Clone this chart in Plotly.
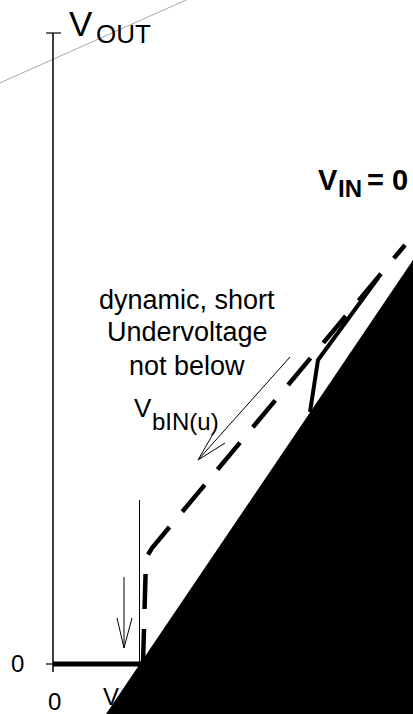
import plotly.graph_objects as go

# ---- data (diagram units: 1 unit ~ 1 px, origin at the V_OUT = 0 / V_IN = 0 corner) ----
# axes
vout_axis_x = [0, 0]
vout_axis_y = [-8, 631]
top_tick_x = [-7, 8]
top_tick_y = [631, 631]
zero_tick_x = [-7, 0]
zero_tick_y = [0, 0]

# output clamped to zero before switch-on
out_zero_x = [0, 89]
out_zero_y = [0, 0]

# black ramp region (V_IN = 0 side)
ramp_x = [53, 360, 360, 53]
ramp_y = [-50, 404, -50, -50]

# dashed curve: dynamic short undervoltage
dyn_x = [90, 93, 99, 352]
dyn_y = [0, 106, 116, 419]

# solid curve near V_IN = 0
sol_x = [257, 265, 325]
sol_y = [252, 304, 386]

# thin threshold line and arrows
thr_x = [86.5, 86.5]
thr_y = [164, 0]
arrow1_x = [71, 71, None, 64, 71, 79]
arrow1_y = [87, 16, None, 46, 16, 46]
arrow2_x = [237, 145, None, 160, 145, 172]
arrow2_y = [307, 204, None, 230, 204, 221]

# thin gray stray line
gray_x = [-60, 160]
gray_y = [578, 676]

# text labels
label_texts = ["dynamic, short", "Undervoltage", "not below"]
label_x = [134, 134, 134]
label_y = [364, 332, 298]

FONT = "Liberation Sans, Arial, sans-serif"

fig = go.Figure()

# x label partly covered by the ramp
fig.add_trace(go.Scatter(x=[50], y=[-35], mode="text", text=["V<sub>IN</sub>"],
                         textposition="middle right",
                         textfont=dict(family=FONT, size=24, color="black"),
                         hoverinfo="skip", showlegend=False))

fig.add_trace(go.Scatter(x=ramp_x, y=ramp_y, mode="lines", fill="toself",
                         fillcolor="black", line=dict(color="black", width=0),
                         hoverinfo="skip", showlegend=False))

def line(x, y, w, color="black", dash=None):
    fig.add_trace(go.Scatter(x=x, y=y, mode="lines",
                             line=dict(color=color, width=w, dash=dash),
                             hoverinfo="skip", showlegend=False))

line(gray_x, gray_y, 1, "#a8a8a8")
line(vout_axis_x, vout_axis_y, 1.5)
line(top_tick_x, top_tick_y, 1.2)
line(zero_tick_x, zero_tick_y, 1.2)
line(thr_x, thr_y, 1)
line(arrow1_x, arrow1_y, 1)
line(arrow2_x, arrow2_y, 1)
line(out_zero_x, out_zero_y, 5)
line(dyn_x, dyn_y, 4.5, dash="35px,20px")
line(sol_x, sol_y, 4)

ann = []
def text(x, y, t, size, anchor="left", bold=False):
    ann.append(dict(x=x, y=y, xref="x", yref="y", text=f"<b>{t}</b>" if bold else t,
                    showarrow=False, xanchor=anchor, yanchor="middle",
                    font=dict(family=FONT, size=size, color="black")))

text(14, 641, "V", 35)
text(41, 630, "OUT", 26)
text(263, 484, "V", 29, bold=True)
text(283, 475.5, "IN", 24, bold=True)
text(312, 484, "= 0", 29, bold=True)
for t, x, y in zip(label_texts, label_x, label_y):
    text(x, y, t, 27, anchor="center")
text(79, 256, "V", 26)
text(97, 242.5, "bIN(u)", 24)
text(-35.5, 0.5, "0", 24, anchor="center")
text(1.5, -37, "0", 24, anchor="center")

fig.update_layout(
    width=413, height=714,
    margin=dict(l=0, r=0, t=0, b=0),
    paper_bgcolor="white", plot_bgcolor="white",
    xaxis=dict(range=[-53, 360], visible=False, fixedrange=True),
    yaxis=dict(range=[-50, 664], visible=False, fixedrange=True),
    annotations=ann,
    showlegend=False,
)

fig.write_html("out.html", config={"displayModeBar": False},
               post_script="document.body.style.margin='0';document.body.style.overflow='hidden';")
